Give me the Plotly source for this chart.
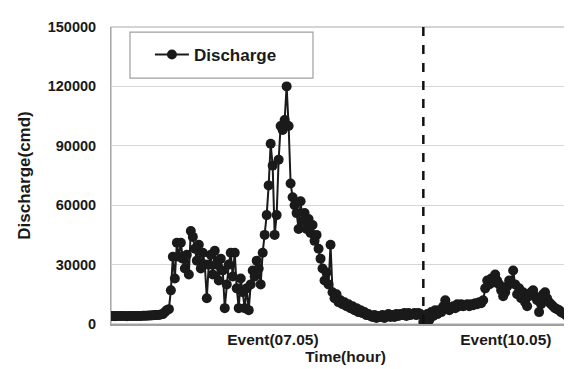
import plotly.graph_objects as go

# Hourly discharge (cmd)
event1 = [4000, 4000, 3900, 4000, 4000, 4000, 4100, 4000, 3900, 4000, 4000, 4000,
          4100, 4000, 4000, 4100, 4200, 4200, 4200, 4300, 4300, 4400, 4500, 4500,
          4600, 4800, 5000, 6000, 7000, 7500,
          17000, 34000, 23000, 41000, 34000, 41000, 33000, 28000, 35000, 25000,
          47000, 44000, 38000, 32000, 40000, 28000, 36000, 30000, 13000, 30000,
          35000, 25000, 37000, 30000, 22000, 33000, 27000, 8000, 20000, 30000,
          36000, 24000, 36000, 18000, 8000, 23000, 16000, 8000, 18000, 7000,
          20000, 27000, 24000, 32000, 28000, 20000, 36000, 45000, 55000, 70000,
          91000, 80000, 45000, 55000, 83000, 100000, 98000, 103000, 120000, 100000,
          71000, 64000, 60000, 56000, 48000, 62000, 52000, 56000, 48000, 53000,
          46000, 50000, 42000, 45000, 38000, 33000, 28000, 22000, 26000, 20000,
          40000, 16000, 13000, 15000, 11000, 12000, 10000, 11000, 9000, 10000,
          8000, 9000, 7000, 8000, 6000, 7000, 5500, 6000, 4500, 5000,
          4000, 3500, 4500, 3000, 4000, 3500, 4500, 3000, 4000, 5000,
          3500, 4500, 3500, 5000, 4000, 5000, 4500, 5500, 4000, 5500,
          4500, 5000, 5500, 4500, 5500, 5000]
event2 = [1000, 3000, 5000, 2000, 6000, 4000, 7000, 5000, 7000, 6000,
          9000, 12000, 9000, 7000, 8000, 9000, 8000, 10000, 9000, 10000,
          9000, 9500, 10000, 9000, 10000, 9500, 10500, 10000, 11000, 10500,
          12000, 18000, 22000, 20000, 23000, 21000, 25000, 22000, 20000, 17000,
          14000, 16000, 19000, 22000, 21000, 27000, 20000, 15000, 18000, 13000,
          16000, 11000, 9000, 14000, 16000, 17000, 14000, 12000, 6000, 10000,
          15000, 16000, 13000, 11000, 10000, 9000, 8000, 7500, 7000, 6000,
          5500, 5000, 4000, 3500, 3000, 2500, 2000, 1500]
event_labels = ["Event(07.05)", "Event(10.05)"]
y_ticks = [0, 30000, 60000, 90000, 120000, 150000]

divider = len(event1) + 0.5
x_all = list(range(len(event1))) + [divider + j for j in range(len(event2))]
y_all = event1 + event2

FONT = "Liberation Sans"
INK = "#1a1a1a"

fig = go.Figure()
fig.add_trace(go.Scatter(
    x=x_all, y=y_all, mode="lines+markers", name="Discharge",
    line=dict(color=INK, width=2),
    marker=dict(color=INK, size=10, symbol="circle"),
))

x_max = divider + len(event2) + 0.5
fig.add_shape(type="line", x0=divider, x1=divider, y0=0, y1=150000,
              line=dict(color="#111111", width=2.5, dash="dash"))
fig.add_shape(type="rect", xref="paper", yref="paper", x0=0, x1=1, y0=0, y1=1,
              line=dict(color="#aaaaaa", width=1.2), layer="below")
# legend frame
fig.add_shape(type="rect", xref="paper", yref="paper",
              x0=0.0405, x1=0.4307, y0=0.828, y1=0.983,
              line=dict(color="#a0a0a0", width=1.2), fillcolor="white", layer="below")

label_pos = [len(event1) * 0.52, divider + len(event2) * 0.53]

fig.update_layout(
    width=572, height=369,
    margin=dict(l=103, r=0, t=19, b=53),
    paper_bgcolor="white", plot_bgcolor="white",
    font=dict(family=FONT, color=INK, size=14, weight="bold"),
    showlegend=True,
    legend=dict(x=0.083, y=0.906, xanchor="left", yanchor="middle",
                borderwidth=0, bgcolor="rgba(0,0,0,0)",
                font=dict(size=17, family=FONT, weight="bold"),
                itemwidth=34),
    xaxis=dict(range=[0, x_max], tickmode="array", tickvals=label_pos,
               ticktext=event_labels, ticks="", showgrid=False, zeroline=False,
               showline=True, linecolor="#a0a0a0", linewidth=2,
               tickfont=dict(size=15.5, family=FONT, weight="bold"),
               title=dict(text="Time(hour)", standoff=2,
                          font=dict(size=15.5, family=FONT, weight="bold"))),
    yaxis=dict(range=[0, 150000], tickvals=y_ticks,
               ticktext=[str(v) for v in y_ticks], showgrid=True,
               gridcolor="#d6d6d6", gridwidth=1, zeroline=False,
               showline=True, linecolor="#aaaaaa", ticks="",
               ticklabelstandoff=11,
               tickfont=dict(size=14.5, family=FONT, weight="bold"),
               title=dict(text="Discharge(cmd)", standoff=12,
                          font=dict(size=17, family=FONT, weight="bold"))),
)

fig.write_html("out.html")
